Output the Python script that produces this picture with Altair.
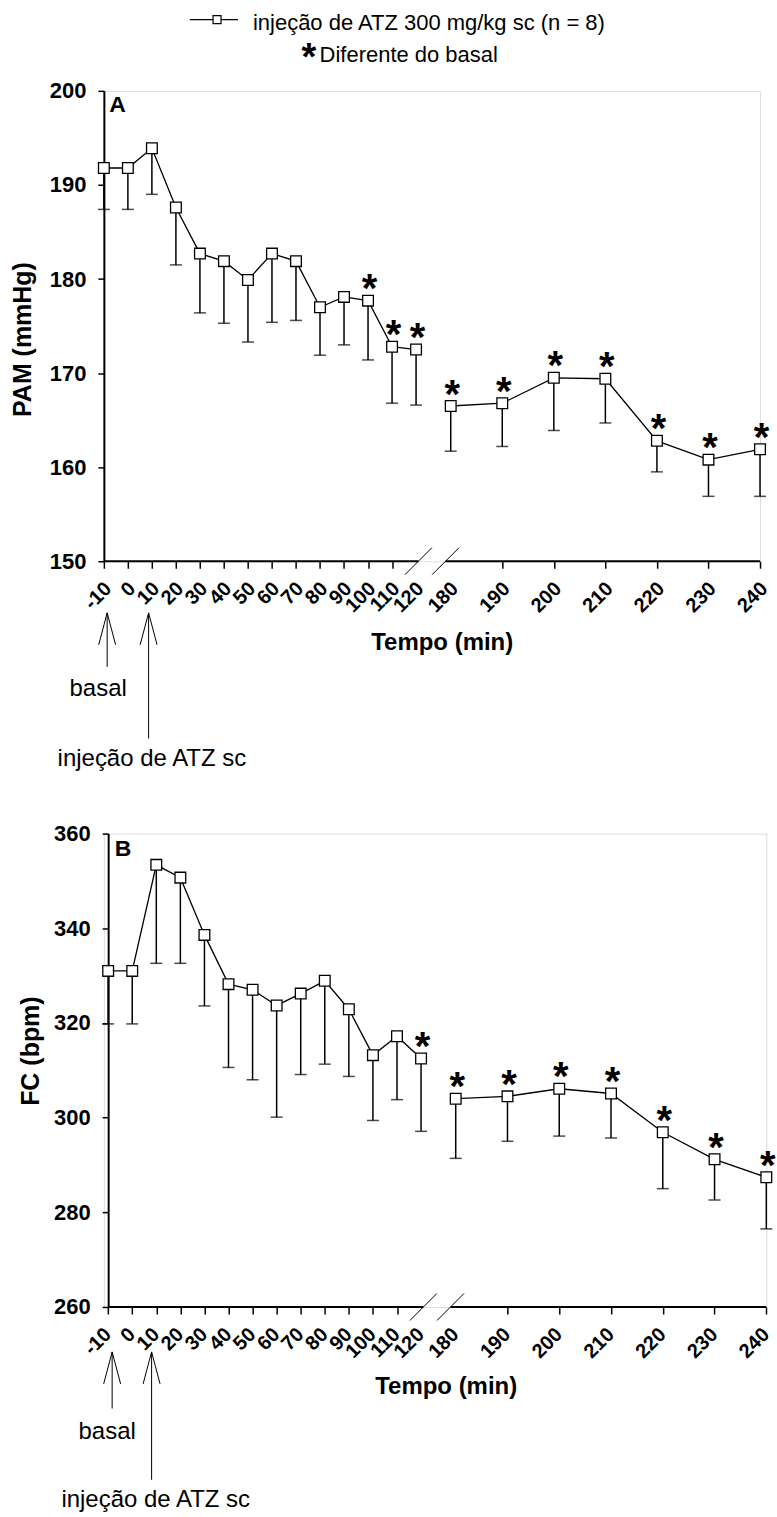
import altair as alt
import pandas as pd

# ---------------- data ----------------
times = [-10, 0, 10, 20, 30, 40, 50, 60, 70, 80, 90, 100, 110, 120,
         180, 190, 200, 210, 220, 230, 240]

pam_mean = [191.8, 191.8, 193.9, 187.6, 182.7, 181.9, 179.9, 182.7, 181.9, 177.0,
            178.1, 177.7, 172.8, 172.5, 166.5, 166.8, 169.5, 169.4, 162.8, 160.8, 161.9]
pam_lower = [187.4, 187.4, 189.0, 181.5, 176.4, 175.3, 173.3, 175.4, 175.6, 171.9,
             173.0, 171.4, 166.8, 166.6, 161.7, 162.2, 163.9, 164.7, 159.5, 156.9, 156.9]
pam_sig = [0, 0, 0, 0, 0, 0, 0, 0, 0, 0, 0, 1, 1, 1, 1, 1, 1, 1, 1, 1, 1]

fc_mean = [331.0, 331.0, 353.4, 350.7, 338.6, 328.2, 327.0, 323.7, 326.2, 328.9,
           322.9, 313.2, 317.2, 312.5, 304.0, 304.5, 306.1, 305.1, 296.9, 291.2, 287.4]
fc_lower = [319.8, 319.8, 332.6, 332.6, 323.6, 310.6, 308.0, 300.1, 309.1, 311.3,
            308.7, 299.4, 303.8, 297.1, 291.4, 295.0, 296.1, 295.7, 285.0, 282.6, 276.5]
fc_sig = [0, 0, 0, 0, 0, 0, 0, 0, 0, 0, 0, 0, 0, 1, 1, 1, 1, 1, 1, 1, 1]

pam_ticks = [150, 160, 170, 180, 190, 200]
fc_ticks = [260, 280, 300, 320, 340, 360]
axis_break = [124, 171]          # cut of the x axis (min)
annot_times = [-10, 10]
annot_texts = ["basal", "injeção de ATZ sc"]
legend_line = "injeção de ATZ 300 mg/kg sc (n = 8)"
legend_star = "Diferente do basal"

FONT = "Liberation Sans"


def panel(mean, lower, sig, yticks, ytitle, letter, g, legend=False):
    df = pd.DataFrame({"t": times, "m": mean, "lo": lower, "sig": sig,
                       "seg": ["a" if t <= 120 else "b" for t in times]})
    seg_df = pd.DataFrame({"a": [times[0], axis_break[1]], "b": [axis_break[0], times[-1]]})
    brk_df = pd.DataFrame({"b": axis_break})
    ann_df = pd.DataFrame({"t": annot_times, "label": annot_texts})
    one = pd.DataFrame({"k": [0]})
    h = g["h"]

    xs = alt.Scale(domain=[-10, 120, 180, 240], range=g["xr"], nice=False, zero=False)
    ys = alt.Scale(domain=[yticks[0], yticks[-1]], nice=False, zero=False)
    xaxis = alt.Axis(values=times, domain=False, grid=False, ticks=True, tickSize=7,
                     tickWidth=1.5, tickColor="black",
                     tickOpacity={"condition": {"test": "datum.value == 120 || datum.value == 180",
                                                "value": 0}, "value": 1},
                     labelExpr="toString(datum.value)",
                     labelAngle=315, labelAlign="right", labelBaseline="middle",
                     labelFont=FONT, labelFontSize=20, labelFontWeight="bold",
                     labelColor="black", labelPadding=17, labelOffset=g["lo"],
                     labelOverlap=False, labelFlush=False,
                     titleFont=FONT, titleFontSize=24, titleFontWeight="bold",
                     titleColor="black", titleX=g["xtx"], titleY=g["xty"],
                     titleAlign="center", titleBaseline="alphabetic")
    yaxis = alt.Axis(values=yticks, grid=False, domainWidth=2, domainColor="black",
                     tickSize=6, tickWidth=1.5, tickColor="black",
                     labelFont=FONT, labelFontSize=22, labelFontWeight="bold",
                     labelColor="black", labelPadding=12, labelOverlap=False,
                     titleFont=FONT, titleFontSize=25, titleFontWeight="bold",
                     titleColor="black", titleAngle=270, titleX=g["ytx"], titleY=g["yty"],
                     titleAlign="center", titleBaseline="middle", offset=g["yoff"])

    def X(f="t"):
        return alt.X(f"{f}:Q", scale=xs, axis=xaxis, title="Tempo (min)")

    def Y(f):
        return alt.Y(f"{f}:Q", scale=ys, axis=yaxis, title=ytitle)

    base = alt.Chart(df)
    err = base.mark_rule(color="black", strokeWidth=1.5).encode(x=X(), y=Y("lo"), y2="m:Q")
    cap = base.mark_tick(orient="horizontal", size=12, thickness=1.5, color="black").encode(
        x=X(), y=Y("lo"))
    line = base.mark_line(color="black", strokeWidth=1.3).encode(
        x=X(), y=Y("m"), detail="seg:N")
    pts = base.mark_point(shape="square", size=115, filled=True, fill="white",
                          stroke="black", strokeWidth=1.3, opacity=1).encode(x=X(), y=Y("m"))
    stars = base.transform_filter("datum.sig == 1").mark_text(
        text="*", font=FONT, fontSize=40, fontWeight="bold", align="center",
        baseline="alphabetic", dy=1.6, dx=1.5, color="black").encode(x=X(), y=Y("m"))

    axline = alt.Chart(seg_df).mark_rule(color="black", strokeWidth=2).encode(
        x=X("a"), x2="b:Q", y=alt.value(h))
    slashes = alt.Chart(brk_df).mark_point(shape="M -1 1 L 1 -1", size=729, filled=False,
                                           color="black", strokeWidth=1, opacity=1).encode(
        x=X("b"), y=alt.value(h))
    lett = alt.Chart(one).mark_text(text=letter, font=FONT, fontSize=23, fontWeight="bold",
                                    align="left", baseline="alphabetic", color="black").encode(
        x=alt.value(g["lx"]), y=alt.value(g["ly"]))

    layers = [err, cap, line, pts, stars, axline, slashes, lett]

    for i in range(2):
        a = alt.Chart(ann_df).transform_filter(f"datum.t == {annot_times[i]}")
        shaft = a.mark_rule(color="black", strokeWidth=1, xOffset=g["adx"][i]).encode(
            x=X(), y=alt.value(h + g["tip"]), y2=alt.value(h + g["end"][i]))
        head = a.mark_point(shape="M -0.53 2 L 0 0 L 0.53 2", size=1024, filled=False,
                            color="black", strokeWidth=1, opacity=1,
                            xOffset=g["adx"][i]).encode(x=X(), y=alt.value(h + g["tip"]))
        txt = a.mark_text(font=FONT, fontSize=24, align="center", baseline="alphabetic",
                          dx=g["tdx"][i], color="black").encode(
            x=X(), y=alt.value(h + g["tb"][i]), text="label:N")
        layers += [shaft, head, txt]

    if legend:
        lg = alt.Chart(one)
        layers += [
            lg.mark_rule(color="black", strokeWidth=1.3).encode(
                x=alt.value(86), x2=alt.value(134.3), y=alt.value(-71.3)),
            lg.mark_point(shape="square", size=64, filled=True, fill="white", stroke="black",
                          strokeWidth=1.2, opacity=1).encode(x=alt.value(113.3), y=alt.value(-71.3)),
            lg.mark_text(text=legend_line, font=FONT, fontSize=22, align="left",
                         baseline="alphabetic", color="black").encode(
                x=alt.value(149.3), y=alt.value(-60.6)),
            lg.mark_text(text="*", font=FONT, fontSize=38, fontWeight="bold", align="center",
                         baseline="alphabetic", color="black").encode(
                x=alt.value(205.3), y=alt.value(-20.5)),
            lg.mark_text(text=legend_star, font=FONT, fontSize=22, align="left",
                         baseline="alphabetic", color="black").encode(
                x=alt.value(216), y=alt.value(-29)),
        ]

    return alt.layer(*layers).properties(width=g["w"], height=h)


gA = dict(w=657, h=471, xr=[0, 312.6, 347.3, 657], yoff=0, lo=4,
          ytx=-81.2, yty=248.5, xtx=338.3, xty=88.4, lx=5.3, ly=20.7,
          tip=51.7, end=[105.7, 177.4], tb=[135, 205], adx=[3.3, -3.3], tdx=[-5.7, 0])
gB = dict(w=663.3, h=474, xr=[4.3, 317.6, 352.3, 663.3], yoff=-4.3, lo=-0.5,
          ytx=-78.1, yty=217.3, xtx=342.3, xty=86.7, lx=11, ly=22,
          tip=45, end=[101.7, 173], tb=[131.7, 200], adx=[4, -4.7], tdx=[-1, -0.6])

pA = panel(pam_mean, pam_lower, pam_sig, pam_ticks, "PAM (mmHg)", "A", gA, legend=True)
pB = panel(fc_mean, fc_lower, fc_sig, fc_ticks, "FC (bpm)", "B", gB)

chart = alt.vconcat(pA, pB, spacing=272.7, bounds="flush").properties(
    padding={"left": 10, "top": 10, "right": 0, "bottom": 0},
    background="white",
).configure_view(stroke=None).configure(font=FONT)

chart.save("out.html", embed_options={"renderer": "svg", "actions": False})
